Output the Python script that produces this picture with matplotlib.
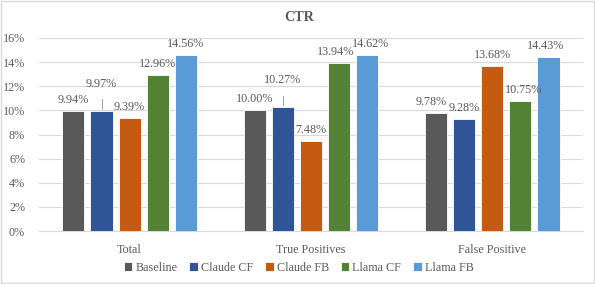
import matplotlib
matplotlib.use('Agg')
import matplotlib.pyplot as plt
from matplotlib.patches import Rectangle
import numpy as np

plt.rcParams['font.family'] = ['Liberation Serif', 'DejaVu Serif']

categories = ['Total', 'True Positives', 'False Positive']
series = ['Baseline', 'Claude CF', 'Claude FB', 'Llama CF', 'Llama FB']
baseline = [9.94, 10.00, 9.78]
claude_cf = [9.97, 10.27, 9.28]
claude_fb = [9.39, 7.48, 13.68]
llama_cf = [12.96, 13.94, 10.75]
llama_fb = [14.56, 14.62, 14.43]
values = [baseline, claude_cf, claude_fb, llama_cf, llama_fb]
colors = ['#595959', '#2F5597', '#C55A11', '#548235', '#5B9BD5']

# label nudges in pixels (dx, dy) so texts don't collide, like excel does it
nudge = {
    (0, 1): (0, 16), (1, 1): (0, 16),
    (1, 3): (-4, 0), (1, 4): (3, 0),
    (2, 0): (-5, 0), (2, 3): (3, 0), (2, 4): (-3, 0),
}
leader = {(0, 1), (1, 1)}

txt = '#595959'
fig = plt.figure(figsize=(5.95, 2.84), dpi=100)
ax = fig.add_axes([0.0655, 0.1866, 0.9143, 0.6796])

x = np.arange(len(categories))
step = 0.155
width = 0.122
for i, (name, vals, c) in enumerate(zip(series, values, colors)):
    pos = x + (i - 2) * step
    ax.bar(pos, vals, width, color=c, edgecolor='white', linewidth=0.6, label=name, zorder=3)
    for j, v in enumerate(vals):
        dx, dy = nudge.get((j, i), (0, 0))
        ax.annotate(f'{v:.2f}%', (pos[j], v), xytext=(dx, 5 + dy), textcoords='offset pixels',
                    ha='center', va='bottom', fontsize=8.7, color=txt, zorder=4)
        if (j, i) in leader:
            # small leader line between bar and lifted label
            ax.plot([pos[j], pos[j]], [v + 0.15, v + 0.95], color='#A6A6A6', lw=0.7, zorder=4)

ax.set_xlim(-0.5, 2.5)
ax.set_ylim(0, 16)
ax.set_yticks(np.arange(0, 17, 2))
ax.set_yticklabels([f'{t}%' for t in range(0, 17, 2)])
ax.set_xticks(x)
ax.set_xticklabels(categories)
ax.tick_params(length=0, labelsize=8.7, labelcolor=txt)
ax.tick_params(axis='x', pad=9)
ax.tick_params(axis='y', pad=10)
ax.grid(axis='y', color='#D9D9D9', lw=0.8, zorder=0)
for s in ['top', 'right', 'left']:
    ax.spines[s].set_visible(False)
ax.spines['bottom'].set_color('#D9D9D9')
ax.spines['bottom'].set_linewidth(0.8)

fig.text(0.502, 0.94, 'CTR', ha='center', va='center', fontsize=10.2,
         fontweight='bold', color=txt)

leg = fig.legend(loc='center', bbox_to_anchor=(0.502, 0.057), ncol=5, frameon=False,
                 fontsize=8.7, handlelength=0.7, handleheight=0.7, handletextpad=0.25,
                 columnspacing=1.0, borderaxespad=0)
for t in leg.get_texts():
    t.set_color(txt)

fig.patches.append(Rectangle((0.002, 0.004), 0.996, 0.992, transform=fig.transFigure,
                             fill=False, edgecolor='#D9D9D9', lw=1))

fig.savefig('out.png', dpi=100)
